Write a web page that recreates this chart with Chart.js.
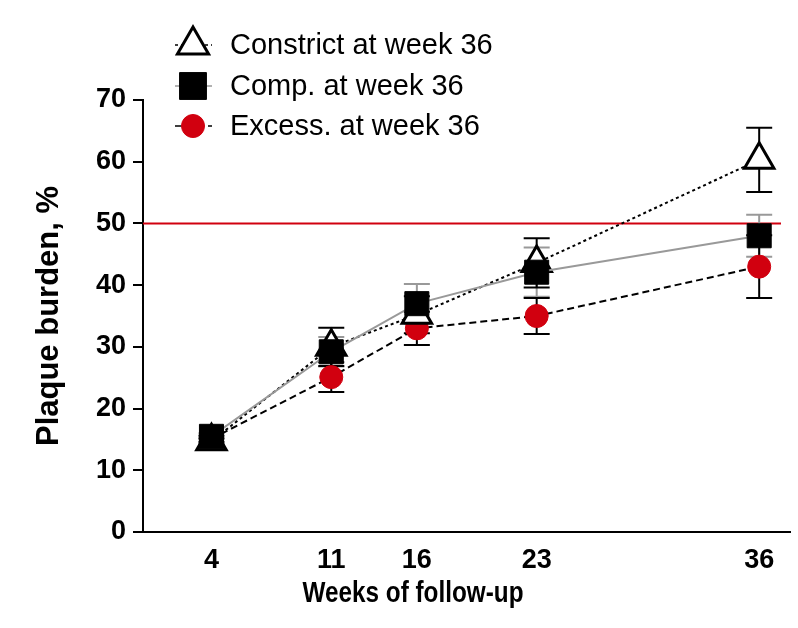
<!DOCTYPE html>
<html>
<head>
<meta charset="utf-8">
<script src="https://cdn.jsdelivr.net/npm/chart.js@4/dist/chart.umd.min.js"></script>
<style>
  html, body { margin: 0; padding: 0; background: #fff; }
  #wrap { width: 798px; height: 628px; }
</style>
</head>
<body>
<div id="wrap"><canvas id="plaqueChart" width="798" height="628"></canvas></div>
<script>
// weeks of follow-up (x values and x tick labels)
const weeks = [4, 11, 16, 23, 36];
const yTicks = [0, 10, 20, 30, 40, 50, 60, 70];

// plaque burden, % (mean and error)
const constrict = [14.7, 30.0, 35.2, 43.6, 60.3];
const constrictErr = [0.5, 3.1, 3.0, 4.0, 5.2];
const comp = [15.5, 29.2, 37.0, 42.1, 48.0];
const compErr = [0.5, 2.4, 3.2, 4.0, 3.4];
const excess = [15.1, 25.1, 33.0, 35.0, 43.0];
const excessErr = [0.5, 2.4, 2.7, 2.9, 5.1];

const refLine = 50;
const RED = '#d1000f';
const FONT = '"Liberation Sans", Arial, sans-serif';

function pts(vals) {
  return vals.map((v, i) => ({ x: weeks[i], y: v }));
}

const errorBars = {
  id: 'errorBars',
  beforeDatasetsDraw(chart) {
    const ctx = chart.ctx;
    const xs = chart.scales.x, ys = chart.scales.y;
    // reference line at 50 %
    const yr = ys.getPixelForValue(refLine);
    ctx.save();
    ctx.strokeStyle = RED;
    ctx.lineWidth = 2;
    ctx.beginPath();
    ctx.moveTo(chart.chartArea.left, yr);
    ctx.lineTo(chart.chartArea.right - 9, yr);
    ctx.stroke();

    chart.data.datasets.forEach(ds => {
      ctx.strokeStyle = ds.errColor;
      ctx.lineWidth = 2;
      ds.data.forEach((p, i) => {
        const e = ds.err[i];
        const x = xs.getPixelForValue(p.x);
        const y1 = ys.getPixelForValue(p.y + e);
        const y2 = ys.getPixelForValue(p.y - e);
        ctx.beginPath();
        ctx.moveTo(x, y1); ctx.lineTo(x, y2);
        ctx.moveTo(x - 13, y1); ctx.lineTo(x + 13, y1);
        ctx.moveTo(x - 13, y2); ctx.lineTo(x + 13, y2);
        ctx.stroke();
      });
    });
    ctx.restore();
  },
  afterDraw(chart) {
    const ctx = chart.ctx;
    ctx.save();
    // x axis title (narrow bold face, squeezed)
    ctx.fillStyle = '#000';
    ctx.font = 'bold 30px ' + FONT;
    ctx.textAlign = 'center';
    ctx.textBaseline = 'middle';
    ctx.save();
    ctx.translate(413, 594);
    ctx.scale(0.81, 1);
    ctx.fillText('Weeks of follow-up', 0, 0);
    ctx.restore();

    // legend
    const rows = [45, 86, 126];
    const order = [1, 0, 2];
    order.forEach((di, r) => {
      const ds = chart.data.datasets[di];
      const y = rows[r];
      ctx.strokeStyle = ds.borderColor;
      ctx.lineWidth = 1.5;
      ctx.setLineDash(ds.borderDash || []);
      ctx.beginPath();
      ctx.moveTo(175, y); ctx.lineTo(212, y);
      ctx.stroke();
      ctx.setLineDash([]);
      ctx.fillStyle = ds.pointBackgroundColor;
      ctx.strokeStyle = ds.pointBorderColor;
      ctx.lineWidth = ds.pointBorderWidth;
      Chart.helpers.drawPoint(ctx, {
        pointStyle: ds.pointStyle,
        radius: ds.legendRadius,
        rotation: 0,
        borderWidth: ds.pointBorderWidth
      }, 193, y);
      ctx.fillStyle = '#000';
      ctx.font = '29px ' + FONT;
      ctx.textAlign = 'left';
      ctx.textBaseline = 'middle';
      ctx.fillText(ds.label, 230, y + 1);
    });
    ctx.restore();
  }
};

new Chart(document.getElementById('plaqueChart'), {
  type: 'line',
  data: {
    datasets: [
      {
        label: 'Comp. at week 36',
        data: pts(comp),
        err: compErr,
        errColor: '#999',
        order: 0,
        borderColor: '#999',
        borderWidth: 2,
        pointStyle: 'rect',
        pointRadius: 17,
        legendRadius: 19,
        pointBackgroundColor: '#000',
        pointBorderColor: '#000',
        pointBorderWidth: 1
      },
      {
        label: 'Constrict at week 36',
        data: pts(constrict),
        err: constrictErr,
        errColor: '#000',
        order: 1,
        borderColor: '#000',
        borderWidth: 2,
        borderDash: [3, 3],
        pointStyle: 'triangle',
        pointRadius: 17,
        legendRadius: 18,
        pointBackgroundColor: '#fff',
        pointBorderColor: '#000',
        pointBorderWidth: 3
      },
      {
        label: 'Excess. at week 36',
        data: pts(excess),
        err: excessErr,
        errColor: '#000',
        order: 2,
        borderColor: '#000',
        borderWidth: 2,
        borderDash: [7, 4],
        pointStyle: 'circle',
        pointRadius: 11.5,
        legendRadius: 11.5,
        pointBackgroundColor: RED,
        pointBorderColor: RED,
        pointBorderWidth: 1
      }
    ]
  },
  options: {
    responsive: false,
    animation: false,
    layout: { autoPadding: false, padding: { top: 100, right: 8, left: 0, bottom: 0 } },
    plugins: {
      legend: { display: false },
      tooltip: { enabled: false }
    },
    scales: {
      x: {
        type: 'linear',
        min: 0,
        max: 37.8,
        afterBuildTicks: axis => { axis.ticks = weeks.map(v => ({ value: v })); },
        afterFit: s => { s.height = 96; s.paddingLeft = 0; s.paddingRight = 0; },
        grid: { display: false, drawTicks: false },
        border: { color: '#000', width: 2 },
        ticks: {
          color: '#000',
          padding: 12,
          font: { family: FONT, size: 27, weight: 'bold' }
        }
      },
      y: {
        min: 0,
        max: 70,
        afterBuildTicks: axis => { axis.ticks = yTicks.map(v => ({ value: v })); },
        afterFit: s => { s.width = 143; s.paddingTop = 0; s.paddingBottom = 0; },
        grid: { drawOnChartArea: false, drawTicks: true, tickLength: 10, color: '#000', lineWidth: 2 },
        border: { color: '#000', width: 2 },
        ticks: {
          color: '#000',
          padding: 7,
          font: { family: FONT, size: 27, weight: 'bold' }
        },
        title: {
          display: true,
          text: 'Plaque burden, %',
          color: '#000',
          padding: { top: 31, bottom: 0 },
          font: { family: FONT, size: 31, weight: 'bold' }
        }
      }
    }
  },
  plugins: [errorBars]
});
</script>
</body>
</html>
